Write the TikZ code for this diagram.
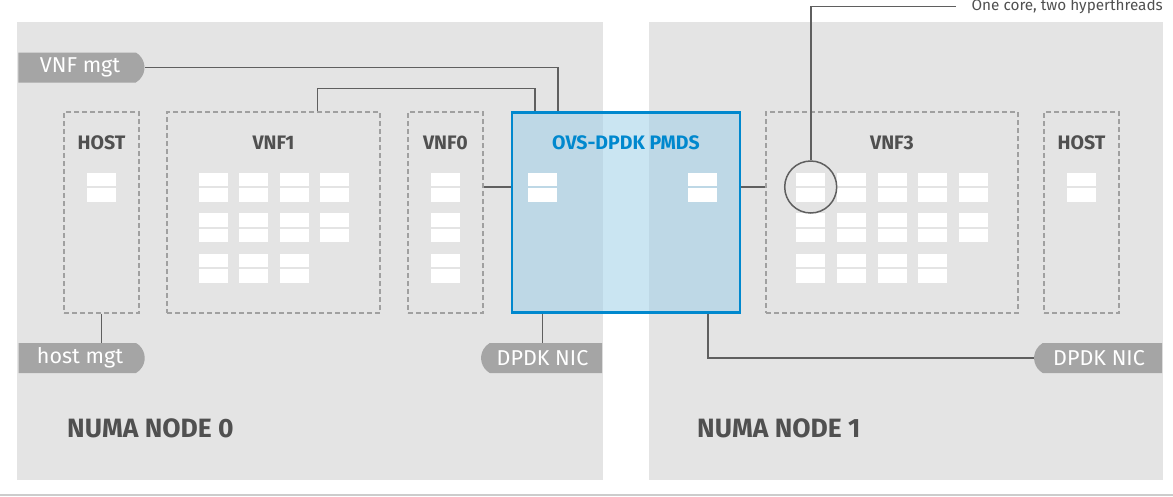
\documentclass[tikz,border=0pt]{standalone}
\usepackage{fontspec}
\setmainfont{Fira Sans}
\usetikzlibrary{shapes.misc,positioning}

\definecolor{numagray}{RGB}{228,228,228}
\definecolor{dashgray}{RGB}{160,160,160}
\definecolor{linegray}{RGB}{95,95,95}
\definecolor{pillgray}{RGB}{165,165,165}
\definecolor{textgray}{RGB}{80,80,80}
\definecolor{ovsblue}{RGB}{0,136,206}
\definecolor{ovsfill}{RGB}{159,207,232}

% one core = two hyperthreads
\newcommand{\hcore}[2]{%
  \fill[white] (#1-14.5,#2-14.5) rectangle (#1+14.5,#2-1);
  \fill[white] (#1-14.5,#2+1) rectangle (#1+14.5,#2+14.5);}

\begin{document}
\begin{tikzpicture}[x=1pt, y=-1pt,
  wire/.style={draw=linegray, line width=1.6pt},
  vmbox/.style={draw=dashgray, dash pattern=on 5pt off 3pt, line width=1.4pt, inner sep=0, minimum height=201pt},
  boxlabel/.style={text=textgray, font=\fontsize{19.5}{22}\selectfont\bfseries},
  pill/.style={rounded rectangle, rounded rectangle arc length=120, fill=pillgray, text=white, minimum height=30pt, inner sep=0, font=\fontsize{21.5}{24}\selectfont},
  numalabel/.style={text=textgray, anchor=west, inner sep=0, font=\fontsize{26.5}{30}\selectfont\bfseries}]

\useasboundingbox (0,0) rectangle (1173,496);

\fill[numagray] (17,22) rectangle (603,480);
\fill[numagray] (649,22) rectangle (1163,480);
\draw[color=black!20, line width=1.5pt] (0,495) -- (1173,495);

% boxes
\node[vmbox, minimum width=75pt] (hostL) at (101.5,212.5) {};
\node[vmbox, minimum width=213pt] (vnf1) at (273.5,212.5) {};
\node[vmbox, minimum width=75pt] (vnf0) at (445.5,212.5) {};
\node[vmbox, minimum width=252pt] (vnf3) at (892,212.5) {};
\node[vmbox, minimum width=75pt] (hostR) at (1081.5,212.5) {};
\node[draw=ovsblue, line width=2.5pt, fill=ovsfill, fill opacity=0.55, minimum width=228pt, minimum height=200pt, inner sep=0] (ovs) at (626,212.5) {};

\node[boxlabel] (hostLlab) at (101.5,142.5) {HOST};
\node[boxlabel] (vnf1lab) at (273.5,142.5) {VNF1};
\node[boxlabel] (vnf0lab) at (445.5,142.5) {VNF0};
\node[boxlabel, text=ovsblue] (ovslab) at (626,142.5) {OVS-DPDK PMDS};
\node[boxlabel] (vnf3lab) at (892,142.5) {VNF3};
\node[boxlabel] (hostRlab) at (1081.5,142.5) {HOST};

% cores
\hcore{101.5}{187}
\hcore{1081.5}{187}
\foreach \cy in {187,227.5,268} \hcore{445.5}{\cy};
\foreach \cx in {213,253.5,294,334} \foreach \cy in {187,227.5} \hcore{\cx}{\cy};
\foreach \cx in {213,253.5,294} \hcore{\cx}{268};
\foreach \cx in {810.7,851,892,932,973} \foreach \cy in {187,227.5} \hcore{\cx}{\cy};
\foreach \cx in {810.7,851,892,932} \hcore{\cx}{268};
\coordinate (ovscL) at (542.5,187);
\coordinate (ovscR) at (702.5,187);
\hcore{542.5}{187}
\hcore{702.5}{187}

% nics and mgt
\node[pill, rounded rectangle west arc=none, minimum width=126pt] (vnfmgt) at (80,67.5) {VNF mgt};
\node[pill, rounded rectangle west arc=none, minimum width=126pt] (hostmgt) at (80,358) {host mgt};
\node[pill, rounded rectangle east arc=none, minimum width=121pt] (nicL) at (542.5,358) {DPDK NIC};
\node[pill, rounded rectangle east arc=none, minimum width=128pt] (nicR) at (1099,358) {DPDK NIC};

\draw[wire] (vnfmgt.east) -| ([xshift=-68pt]ovs.north);
\draw[wire] ([xshift=44pt]vnf1.north) -- ++(0,-23) -| ([xshift=-91pt]ovs.north);
\draw[wire] (vnf0.east |- ovscL) -- (ovs.west |- ovscL);
\draw[wire] (ovs.east |- ovscR) -- (vnf3.west |- ovscR);
\draw[wire] (hostL.south) -- (hostmgt.north -| hostL.south);
\draw[wire] (ovs.south -| nicL.north) -- (nicL.north);
\draw[wire] ([xshift=82pt]ovs.south) |- (nicR.west);

% one core, two hyperthreads
\node[draw=linegray, line width=1.5pt, circle, minimum size=52pt, inner sep=0] (ht) at (810.7,187) {};
\node[anchor=east, inner sep=0, text=textgray, font=\fontsize{15.3}{17}\selectfont] (note) at (1163,6.5) {One core, two hyperthreads};
\draw[wire] (ht.north) |- ([xshift=-15pt]note.west);

\node[numalabel] (numa0lab) at (67,428.5) {NUMA NODE 0};
\node[numalabel] (numa1lab) at (697,428.5) {NUMA NODE 1};

\end{tikzpicture}
\end{document}
